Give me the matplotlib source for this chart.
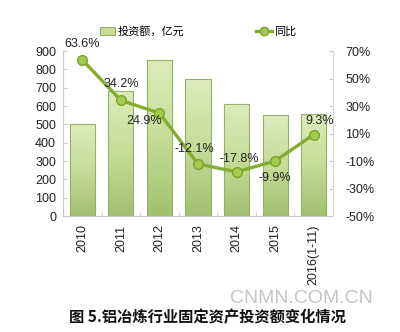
import matplotlib
matplotlib.use("Agg")
import matplotlib.pyplot as plt
import numpy as np
from matplotlib.colors import LinearSegmentedColormap
from matplotlib.lines import Line2D
from matplotlib.patches import Patch

plt.rcParams['font.family'] = ['Liberation Sans', 'Noto Sans CJK SC', 'DejaVu Sans']

categories = ["2010", "2011", "2012", "2013", "2014", "2015", "2016(1-11)"]
investment = [505, 685, 851, 748, 613, 553, 559]
yoy = [63.6, 34.2, 24.9, -12.1, -17.8, -9.9, 9.3]
yoy_labels = ["63.6%", "34.2%", "24.9%", "-12.1%", "-17.8%", "-9.9%", "9.3%"]
label_offsets = [(0, 11.5), (0, 12), (-11, -6), (-3, 11), (2, 9), (0, -12), (4, 10)]
left_ticks = [0, 100, 200, 300, 400, 500, 600, 700, 800, 900]
right_ticks = [-50, -30, -10, 10, 30, 50, 70]

fig = plt.figure(figsize=(4.0, 3.32), dpi=100)
ax = fig.add_axes([0.1575, 0.349, 0.675, 0.497])
x = np.arange(len(categories))

bars = ax.bar(x, investment, width=0.65, facecolor='none', edgecolor='#95b06a', linewidth=0.8, zorder=2)
cmap = LinearSegmentedColormap.from_list('g', ['#a2c070', '#c6dc98', '#deecbc'])
grad = np.linspace(0, 1, 256).reshape(-1, 1)
for b in bars:
    im = ax.imshow(grad, cmap=cmap, origin='lower', aspect='auto',
                   extent=[b.get_x(), b.get_x() + b.get_width(), 0, b.get_height()], zorder=1)
    im.set_clip_path(b)
ax.set_xlim(-0.5, len(categories) - 0.5)
ax.set_ylim(0, 900)
ax.set_yticks(left_ticks)
ax.set_xticks(x)
ax.set_xticklabels(categories, rotation=90, fontsize=9, color='#222222')
ax.tick_params(axis='x', length=0, pad=6)
ax.set_xticks(np.arange(-0.5, len(categories), 1), minor=True)
ax.tick_params(axis='x', which='minor', length=3, color='#c8c8c8', direction='in')
ax.tick_params(axis='y', labelsize=9, length=3, color='#c8c8c8', direction='in', pad=5, labelcolor='#222222')
for s in ['top', 'right']:
    ax.spines[s].set_visible(False)
for s in ['left', 'bottom']:
    ax.spines[s].set_color('#c8c8c8')
    ax.spines[s].set_linewidth(0.8)

ax2 = ax.twinx()
ax2.plot(x, yoy, color='#84ad2e', linewidth=2.4, marker='o', markersize=7,
         markerfacecolor='#a3c94d', markeredgecolor='#7aa32a', markeredgewidth=1, zorder=5)
ax2.set_ylim(-50, 70)
ax2.set_yticks(right_ticks)
ax2.set_yticklabels([f"{t}%" for t in right_ticks])
ax2.tick_params(axis='y', labelsize=9, length=3, color='#c8c8c8', direction='in', pad=9, labelcolor='#222222')
for s in ['top', 'left', 'bottom']:
    ax2.spines[s].set_visible(False)
ax2.spines['right'].set_color('#d8d8d8')
ax2.spines['right'].set_linewidth(0.8)
for xi, v, lab, off in zip(x, yoy, yoy_labels, label_offsets):
    ax2.annotate(lab, (xi, v), xytext=off, textcoords='offset points',
                 ha='center', va='center', fontsize=9, color='#222222', zorder=6)

handles = [Patch(facecolor='#c6dc98', edgecolor='#95b06a', linewidth=0.8),
           Line2D([0], [0], color='#84ad2e', linewidth=2.4, marker='o', markersize=6,
                  markerfacecolor='#a3c94d', markeredgecolor='#7aa32a')]
fig.legend(handles, ["投资额，亿元", "同比"], loc='center', bbox_to_anchor=(0.495, 0.905),
           ncol=2, frameon=False, columnspacing=6.5, handlelength=1.4,
           handletextpad=0.2, prop={'family': ['Noto Sans CJK SC'], 'size': 8})

fig.text(0.754, 0.1, "CNMN.COM.CN", fontsize=14, color='#c4c4c4', ha='center', va='center',
         family=['Liberation Sans'])
fig.text(0.5175, 0.045, "图 5.铝冶炼行业固定资产投资额变化情况", fontsize=11, fontweight='bold',
         ha='center', va='center', family=['Noto Sans CJK SC'], color='#111111')

fig.savefig("out.png", dpi=100, facecolor='white')
